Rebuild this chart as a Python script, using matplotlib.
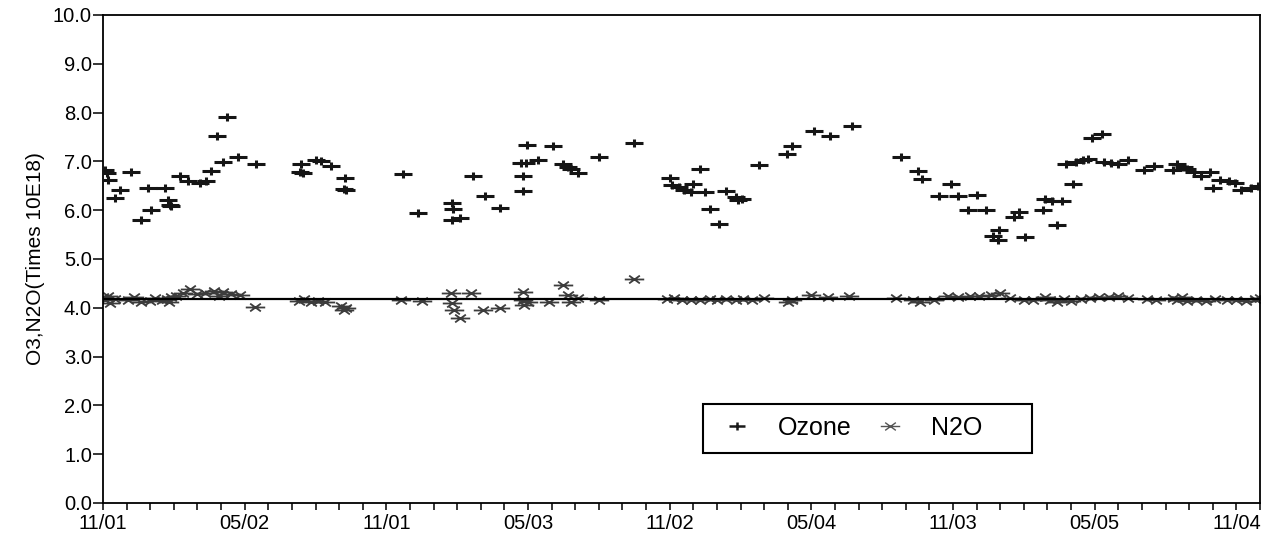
import numpy as np
import matplotlib.pyplot as plt
from matplotlib.path import Path
from matplotlib.lines import Line2D
from matplotlib.patches import Rectangle

plt.rcParams['font.family'] = ['Liberation Sans', 'DejaVu Sans']

# months since the first tick (11/01), one tick per month
ozone_month = [0.1, 0.15, 0.2, 1.2, 0.7, 0.5, 1.62, 2.05, 1.9, 2.64, 2.75, 2.85, 2.9,
               3.25, 3.6, 4.1, 4.38, 4.56, 5.08, 4.84, 5.27, 5.72, 6.5, 8.4, 8.35, 8.45,
               9.04, 9.25, 9.67, 10.27, 10.2, 10.3, 12.7, 13.35, 14.76, 14.83, 14.76,
               15.1, 15.68, 16.17, 16.8, 17.7, 17.9, 17.94, 17.8, 17.8, 18.43, 19.07,
               19.5, 19.7, 19.84, 20.1, 21.0, 22.5, 24.0, 24.1, 24.4, 24.6, 25.0, 24.9,
               25.5, 25.3, 25.7, 26.1, 26.4, 26.8, 26.9, 27.05, 27.8, 28.95, 29.2, 30.1,
               30.8, 31.7, 33.8, 34.5, 34.7, 35.4, 35.9, 36.2, 37.0, 36.65, 37.4, 37.7,
               37.9, 37.95, 39.05, 38.6, 38.8, 39.8, 39.9, 40.2, 40.6, 40.4, 41.1, 40.8,
               41.2, 41.5, 41.7, 41.9, 42.3, 42.4, 42.7, 43.0, 43.4, 44.1, 44.5, 45.3,
               45.5, 45.8, 45.9, 46.2, 46.5, 46.9, 47.0, 47.3, 47.7, 47.95, 48.2, 48.6,
               48.9]
ozone_val = [6.82, 6.76, 6.61, 6.78, 6.41, 6.24, 5.79, 6.01, 6.45, 6.46, 6.20, 6.10, 6.08,
             6.71, 6.59, 6.56, 6.59, 6.80, 6.99, 7.52, 7.91, 7.10, 6.94, 6.94, 6.78, 6.76,
             7.02, 7.01, 6.90, 6.65, 6.44, 6.41, 6.75, 5.94, 6.15, 6.03, 5.79,
             5.83, 6.71, 6.29, 6.04, 6.97, 6.97, 7.34, 6.70, 6.39, 7.02, 7.32,
             6.95, 6.89, 6.85, 6.76, 7.08, 7.37, 6.65, 6.51, 6.47, 6.41, 6.54, 6.37,
             6.37, 6.85, 6.03, 5.71, 6.39, 6.27, 6.20, 6.22, 6.92, 7.15, 7.31, 7.62,
             7.52, 7.73, 7.10, 6.80, 6.63, 6.29, 6.54, 6.29, 6.32, 6.00, 6.00, 5.48,
             5.38, 5.59, 5.46, 5.86, 5.96, 6.00, 6.22, 6.19, 6.19, 5.69, 6.54, 6.95,
             6.99, 7.02, 7.04, 7.47, 7.56, 6.99, 6.97, 6.95, 7.02, 6.82, 6.90, 6.82,
             6.95, 6.89, 6.85, 6.78, 6.71, 6.78, 6.46, 6.61, 6.60, 6.56, 6.41, 6.46,
             6.49]

n2o_month = [0.0, 0.1, 0.2, 0.3, 0.5, 1.05, 1.3, 1.6, 1.97, 2.2, 2.5, 2.7, 2.8, 2.9, 3.1,
             3.4, 3.7, 4.0, 4.3, 4.7, 4.9, 5.1, 5.4, 5.8, 6.43, 8.3, 8.5, 8.8, 9.1, 9.4,
             10.1, 10.2, 10.3, 12.6, 13.5, 14.75, 14.8, 14.85, 15.1, 15.6, 16.1, 16.8,
             17.8, 17.8, 17.85, 18.0, 18.9, 19.5, 19.7, 19.8, 20.1, 21.0, 22.5, 23.9,
             24.2, 24.5, 24.9, 25.3, 25.7, 26.0, 26.4, 26.8, 27.1, 27.5, 28.0, 29.0,
             29.2, 30.0, 30.7, 31.6, 33.6, 34.3, 34.6, 35.2, 35.8, 36.2, 36.7, 37.1,
             37.6, 38.0, 38.4, 39.0, 39.4, 39.9, 40.1, 40.4, 40.7, 41.0, 41.4, 41.8,
             42.2, 42.6, 43.0, 43.4, 44.2, 44.6, 45.3, 45.5, 45.7, 45.9, 46.3, 46.7,
             47.1, 47.6, 48.0, 48.4, 48.8, 49.0]
n2o_val = [4.22, 4.15, 4.25, 4.10, 4.18, 4.16, 4.22, 4.12, 4.13, 4.20, 4.15, 4.18, 4.12,
           4.22, 4.25, 4.30, 4.39, 4.28, 4.30, 4.35, 4.25, 4.33, 4.29, 4.26, 4.02, 4.14,
           4.18, 4.11, 4.14, 4.11, 4.03, 3.96, 4.00, 4.16, 4.14, 4.30, 4.09, 3.95, 3.79,
           4.30, 3.95, 4.00, 4.32, 4.15, 4.05, 4.12, 4.11, 4.46, 4.26, 4.12, 4.20, 4.17,
           4.59, 4.18, 4.20, 4.15, 4.17, 4.16, 4.19, 4.15, 4.18, 4.16, 4.19, 4.17, 4.20,
           4.12, 4.15, 4.26, 4.23, 4.25, 4.20, 4.17, 4.12, 4.16, 4.24, 4.22, 4.25, 4.24,
           4.26, 4.30, 4.20, 4.15, 4.17, 4.22, 4.16, 4.12, 4.18, 4.14, 4.18, 4.20, 4.23,
           4.22, 4.25, 4.20, 4.18, 4.17, 4.21, 4.16, 4.22, 4.13, 4.17, 4.14, 4.18, 4.15,
           4.17, 4.14, 4.19, 4.20]

n2o_mean = 4.18
date_labels = ['11/01', '05/02', '11/01', '05/03', '11/02', '05/04', '11/03', '05/05', '11/04']

# wide plus and "horizontal asterisk" markers
plus_mk = Path([(-1, 0), (1, 0), (0, -0.45), (0, 0.45)],
               [Path.MOVETO, Path.LINETO, Path.MOVETO, Path.LINETO])
ast_mk = Path([(-1, 0), (1, 0), (-0.55, -0.4), (0.55, 0.4), (-0.55, 0.4), (0.55, -0.4)],
              [Path.MOVETO, Path.LINETO, Path.MOVETO, Path.LINETO, Path.MOVETO, Path.LINETO])

fig = plt.figure(figsize=(12.66, 5.35), dpi=100)
ax = fig.add_axes([103 / 1266, 32 / 535, 1157 / 1266, 488 / 535])

ax.plot(n2o_month, n2o_val, ls='none', marker=ast_mk, ms=14, mew=1.3,
        color='#3c3c3c', zorder=2)
ax.axhline(n2o_mean, color='black', lw=1.6, zorder=3)
ax.plot(ozone_month, ozone_val, ls='none', marker=plus_mk, ms=12.5, mew=2.2,
        color='#151515', zorder=4)

ax.set_xlim(0, 49)
ax.set_ylim(0, 10)
ax.set_xticks(np.arange(0, 49, 6))
ax.set_xticklabels(date_labels)
ax.set_xticks(np.arange(0, 50, 1), minor=True)
ax.set_yticks(np.arange(0, 11, 1))
ax.set_yticklabels(['%.1f' % v for v in range(11)])

ax.tick_params(axis='x', which='both', direction='out', length=5, width=1.1,
               labelsize=14.5, pad=3)
ax.tick_params(axis='y', direction='out', length=7, width=1.1, labelsize=14.5, pad=1)
for s in ax.spines.values():
    s.set_linewidth(1.3)

ax.set_ylabel('O3,N2O(Times 10E18)', fontsize=15, labelpad=6)

handles = [Line2D([], [], ls='none', marker=plus_mk, ms=12, mew=1.8, color='#1a1a1a'),
           Line2D([], [], ls='none', marker=ast_mk, ms=14, mew=1.0, color='#555555')]
ax.legend(handles, ['Ozone', 'N2O'], ncol=2, loc='center left',
          bbox_to_anchor=(0.5186, 0.1537), frameon=False, fontsize=18,
          borderpad=0.5, borderaxespad=0, handlelength=1.72, handletextpad=0.78,
          columnspacing=0.66)
ax.add_patch(Rectangle((0.5186, 0.1025), 0.2844, 0.1004, transform=ax.transAxes,
                       fill=False, edgecolor='black', lw=1.5, zorder=5))

fig.savefig('out.png', dpi=100)
